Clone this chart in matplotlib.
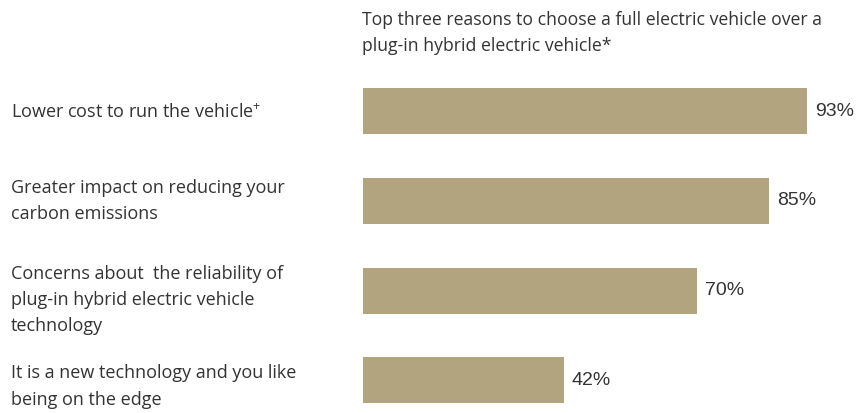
import matplotlib.pyplot as plt
from matplotlib.transforms import blended_transform_factory

# reasons and share of respondents (%)
reasons = [
    "Lower cost to run the vehicle$^{+}$",
    "Greater impact on reducing your\ncarbon emissions",
    "Concerns about  the reliability of\nplug-in hybrid electric vehicle\ntechnology",
    "It is a new technology and you like\nbeing on the edge",
]
shares = [93, 85, 70, 42]
title = ("Top three reasons to choose a full electric vehicle over a\n"
         "plug-in hybrid electric vehicle*")

bar_color = "#B1A47E"
text_color = "#333333"
label_font = ["Open Sans", "DejaVu Sans"]
# small downward nudges (pixels) for the wrapped category labels
label_nudge = [-2, 0, -9, -6]

plt.rcParams["mathtext.fontset"] = "custom"
plt.rcParams["mathtext.rm"] = "Open Sans"
plt.rcParams["mathtext.it"] = "Open Sans"

fig = plt.figure(figsize=(8.64, 4.13), dpi=100)
ax = fig.add_axes([0.42, 0.0136, 0.553, 0.848])

ypos = range(len(shares))
ax.barh(ypos, shares, height=0.512, color=bar_color, linewidth=0)
ax.set_xlim(0, 100)
ax.set_ylim(3.3, -0.6)
ax.axis("off")

# value labels just past the bar ends
for y, v in zip(ypos, shares):
    ax.annotate(f"{v}%", (v, y), xytext=(8, 0), textcoords="offset pixels",
                va="center", ha="left", fontsize=14,
                family="Liberation Sans", color=text_color)

# category labels down the left side
tr = blended_transform_factory(fig.transFigure, ax.transData)
for y, txt, dy in zip(ypos, reasons, label_nudge):
    ax.annotate(txt, (11 / 864, y), xycoords=tr, xytext=(0, dy),
                textcoords="offset pixels", va="center", ha="left",
                fontsize=13, family=label_font, color=text_color,
                linespacing=1.58)

fig.text(362 / 864, 1 - 11 / 413, title, va="top", ha="left",
         fontsize=12.7, family=label_font, color=text_color, linespacing=1.58)

fig.savefig("out.png", dpi=100)
